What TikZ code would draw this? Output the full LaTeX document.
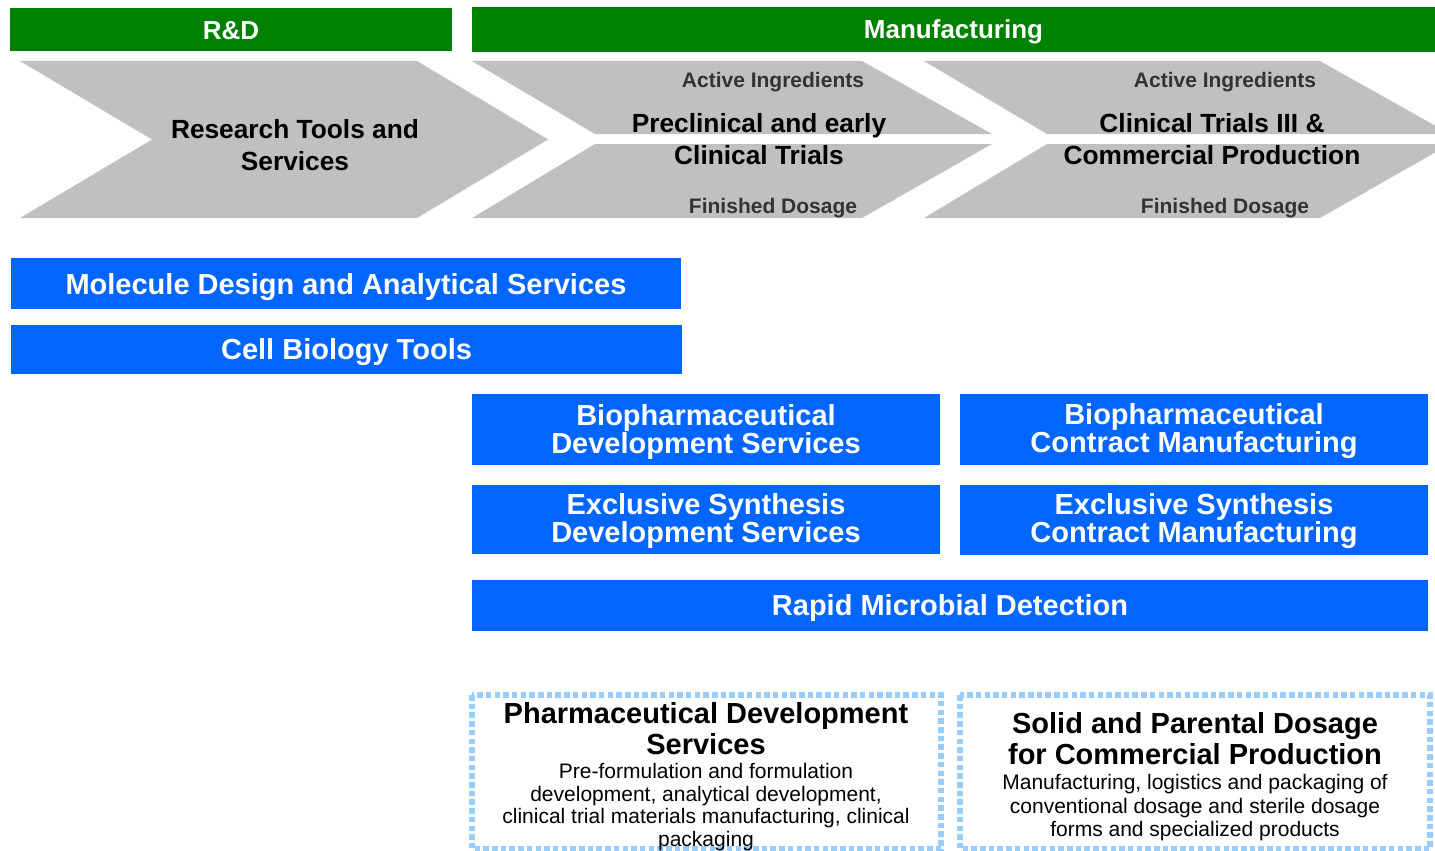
\documentclass[tikz,border=0pt]{standalone}
\usepackage{fontspec}
\setmainfont{Liberation Sans}
\definecolor{hdrgreen}{HTML}{008000}
\definecolor{chevgrey}{HTML}{C0C0C0}
\definecolor{boxblue}{HTML}{0066FF}
\definecolor{dashblue}{HTML}{99CCFF}
\definecolor{subgrey}{HTML}{333333}
\tikzset{
  header/.style={fill=hdrgreen, inner sep=0pt},
  headertext/.style={text=white, inner sep=0pt, font=\fontsize{26}{28}\selectfont\bfseries},
  chevtext/.style={align=center, inner sep=0pt, font=\fontsize{26.3}{32}\selectfont\bfseries},
  subtext/.style={inner sep=0pt, text=subgrey, font=\fontsize{21}{22}\selectfont\bfseries},
  bluebox/.style={fill=boxblue, inner sep=0pt},
  bluetext/.style={text=white, inner sep=0pt, align=center, font=\fontsize{29}{28}\selectfont\bfseries},
  dashbox/.style={draw=dashblue, line width=5.5pt, dash pattern=on 5.5pt off 3.2pt},
  titletext/.style={align=center, inner sep=0pt, font=\fontsize{29}{31}\selectfont\bfseries},
  desctext/.style={align=center, inner sep=0pt, font=\fontsize{21}{22.5}\selectfont}
}
\begin{document}
\begin{tikzpicture}[x=1pt,y=-1pt]
\useasboundingbox (0,0) rectangle (1435,851);
% headers
\node[header, minimum width=442pt, minimum height=43pt] (rd) at (231,29.5) {};
\node[headertext] (rdT) at ([yshift=-1pt]rd.center) {R\&D};
\node[header, minimum width=963pt, minimum height=45pt] (mf) at (953.5,29.5) {};
\node[headertext] (mfT) at ([yshift=-2.5pt]mf.center) {Manufacturing};
% chevrons
\begin{scope}
\clip (0,0) rectangle (1435,851);
\fill[chevgrey] (20,61) -- (417,61) -- (548,139.5) -- (417,218) -- (20,218) -- (152,139.5) -- cycle;
\fill[chevgrey] (472,61) -- (862,61) -- (992,134) -- (595,134) -- cycle;
\fill[chevgrey] (595,144) -- (992,144) -- (862,218) -- (472,218) -- cycle;
\fill[chevgrey] (924,61) -- (1320,61) -- (1450,134) -- (1047,134) -- cycle;
\fill[chevgrey] (1047,144) -- (1450,144) -- (1320,218) -- (924,218) -- cycle;
\end{scope}
\node[chevtext] (rts) at (295,145) {Research Tools and\\Services};
\node[subtext] (ai1) at (773,82) {Active Ingredients};
\node[chevtext] (pre) at (759,139) {Preclinical and early\\Clinical Trials};
\node[subtext] (fd1) at (773,208) {Finished Dosage};
\node[subtext] (ai2) at (1225,82) {Active Ingredients};
\node[chevtext] (ct3) at (1212,139) {Clinical Trials III \&\\Commercial Production};
\node[subtext] (fd2) at (1225,208) {Finished Dosage};
% blue boxes
\node[bluebox, minimum width=670pt, minimum height=51pt] (mol) at (346,283.5) {};
\node[bluetext] (molT) at ([yshift=-3.5pt]mol.center) {Molecule Design and Analytical Services};
\node[bluebox, minimum width=671pt, minimum height=49pt] (cell) at (346.5,349.5) {};
\node[bluetext] (cellT) at ([yshift=-3pt]cell.center) {Cell Biology Tools};
\node[bluebox, minimum width=468pt, minimum height=71pt] (bds) at (706,429.5) {};
\node[bluetext] (bdsT) at ([yshift=-2pt]bds.center) {Biopharmaceutical\\Development Services};
\node[bluebox, minimum width=468pt, minimum height=71pt] (bcm) at (1194,429.5) {};
\node[bluetext] (bcmT) at ([yshift=-2pt]bcm.center) {Biopharmaceutical\\Contract Manufacturing};
\node[bluebox, minimum width=468pt, minimum height=69pt] (eds) at (706,519.5) {};
\node[bluetext] (edsT) at ([yshift=-1.5pt]eds.center) {Exclusive Synthesis\\Development Services};
\node[bluebox, minimum width=468pt, minimum height=70pt] (ecm) at (1194,520) {};
\node[bluetext] (ecmT) at ([yshift=-1.5pt]ecm.center) {Exclusive Synthesis\\Contract Manufacturing};
\node[bluebox, minimum width=956pt, minimum height=51pt] (rmd) at (950,605.5) {};
\node[bluetext] (rmdT) at ([yshift=-2pt]rmd.center) {Rapid Microbial Detection};
% dashed boxes
\draw[dashbox] (472,695) rectangle (941,849);
\draw[dashbox] (960,695) rectangle (1430,849);
\node[titletext] (pdsT) at (706,728.5) {Pharmaceutical Development\\Services};
\node[desctext] (pdsD) at (706,807) {Pre-formulation and formulation\\development, analytical development,\\clinical trial materials manufacturing, clinical\\packaging};
\node[titletext] (spdT) at (1195,739) {Solid and Parental Dosage\\for Commercial Production};
\node[desctext, font=\fontsize{21}{23.5}\selectfont] (spdD) at (1195,808) {Manufacturing, logistics and packaging of\\conventional dosage and sterile dosage\\forms and specialized products};
\end{tikzpicture}
\end{document}
